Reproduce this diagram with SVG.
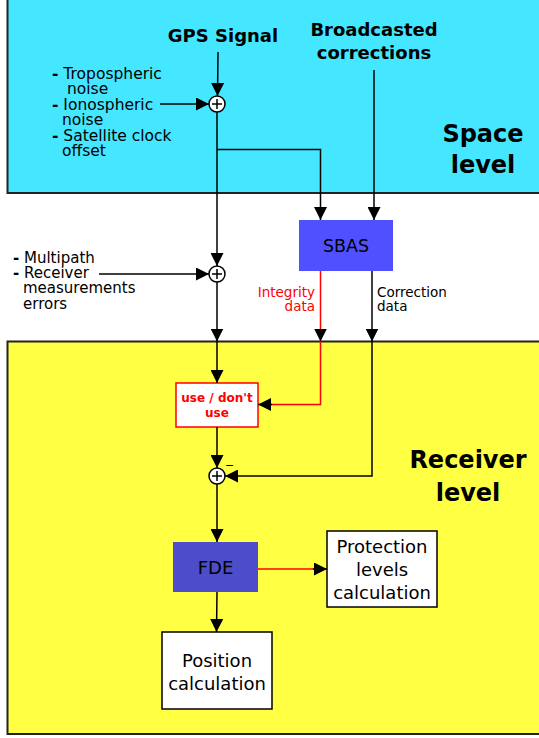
<svg xmlns="http://www.w3.org/2000/svg" width="539" height="738" viewBox="0 0 539 738">
<style>
text{font-family:"DejaVu Sans","Liberation Sans",sans-serif;fill:#000}
.b{font-weight:bold}
.ln{fill:none;stroke:#000;stroke-width:1.5}
.rd{fill:none;stroke:#ff0000;stroke-width:1.5}
.j{fill:#fff;stroke:#000;stroke-width:1.5}
.box{stroke:#000;stroke-width:1.5;fill:#fff}
.mid{text-anchor:middle}
</style>
<defs>
<marker id="ah" viewBox="0 0 10 10" refX="10" refY="5" markerWidth="13" markerHeight="13" markerUnits="userSpaceOnUse" orient="auto">
<path d="M0,0 L10,5 L0,10 z" fill="#000"/>
</marker>
</defs>
<g id="space-level">
<rect x="7.5" y="-3" width="540" height="196" fill="#45e6ff" stroke="#222" stroke-width="2"/>
<text class="b mid" x="483" y="142" font-size="24">Space</text>
<text class="b mid" x="483" y="173" font-size="24">level</text>
</g>
<g id="receiver-level">
<rect x="7.5" y="341.5" width="540" height="392.5" fill="#ffff44" stroke="#222" stroke-width="2"/>
<text class="b mid" x="468" y="468" font-size="24">Receiver</text>
<text class="b mid" x="468" y="501" font-size="24">level</text>
</g>
<g id="gps-signal"><text class="b mid" x="223" y="42" font-size="18">GPS Signal</text></g>
<g id="broadcasted"><text class="b mid" x="374" y="36" font-size="18">Broadcasted</text><text class="b mid" x="374" y="59" font-size="18">corrections</text></g>
<g id="space-errors">
<text x="52" y="79" font-size="15.5"><tspan class="b">-</tspan> Tropospheric</text>
<text x="67" y="94" font-size="15.5">noise</text>
<text x="52" y="110" font-size="15.5"><tspan class="b">-</tspan> Ionospheric</text>
<text x="62" y="125" font-size="15.5">noise</text>
<text x="52" y="141" font-size="15.5"><tspan class="b">-</tspan> Satellite clock</text>
<text x="62" y="156" font-size="15.5">offset</text>
</g>
<g id="receiver-errors">
<text x="13" y="263" font-size="15"><tspan class="b">-</tspan> Multipath</text>
<text x="13" y="278" font-size="15"><tspan class="b">-</tspan> Receiver</text>
<text x="23" y="293" font-size="15">measurements</text>
<text x="23" y="309" font-size="15">errors</text>
</g>
<g id="sbas">
<rect x="299" y="220" width="94" height="51" fill="#5050ff"/>
<text class="mid" x="346" y="252" font-size="17.5" fill="#111">SBAS</text>
</g>
<g id="use-dont-use">
<rect x="176" y="383" width="82" height="44" fill="#fff" stroke="#ff0000" stroke-width="1.5"/>
<text class="b mid" x="217" y="401.5" font-size="12" style="fill:#ff0000">use / don't</text>
<text class="b mid" x="217" y="416.5" font-size="12" style="fill:#ff0000">use</text>
</g>
<g id="fde">
<rect x="173" y="542" width="85" height="50" fill="#4d4dc9"/>
<text class="mid" x="215.5" y="574" font-size="18" fill="#111">FDE</text>
</g>
<g id="protection">
<rect class="box" x="327" y="531" width="110" height="76"/>
<text class="mid" x="382" y="553" font-size="18">Protection</text>
<text class="mid" x="382" y="576" font-size="18">levels</text>
<text class="mid" x="382" y="599" font-size="18">calculation</text>
</g>
<g id="position">
<rect class="box" x="162" y="632" width="110" height="77"/>
<text class="mid" x="217" y="667" font-size="18">Position</text>
<text class="mid" x="217" y="690" font-size="18">calculation</text>
</g>
<g id="labels">
<text x="315" y="297" font-size="13.5" text-anchor="end" style="fill:#ff0000">Integrity</text>
<text x="315" y="311" font-size="13.5" text-anchor="end" style="fill:#ff0000">data</text>
<text x="377" y="297" font-size="13.5">Correction</text>
<text x="377" y="311" font-size="13.5">data</text>
</g>
<g id="connectors">
<path class="ln" d="M218,52 L217.5,96" marker-end="url(#ah)"/>
<path class="ln" d="M160,104 L209,104" marker-end="url(#ah)"/>
<path class="ln" d="M217,112 L217,266" marker-end="url(#ah)"/>
<path class="ln" d="M217,149.5 L320.5,149.5 L320.5,220" marker-end="url(#ah)"/>
<path class="ln" d="M374,70 L374,220" marker-end="url(#ah)"/>
<path class="ln" d="M99,274 L209,274" marker-end="url(#ah)"/>
<path class="ln" d="M217,282 L217,341.5" marker-end="url(#ah)"/>
<path class="ln" d="M217,341.5 L217,383" marker-end="url(#ah)"/>
<path class="rd" d="M320.5,271 L320.5,341.5" marker-end="url(#ah)"/>
<path class="rd" d="M320.5,341.5 L320.5,404.5 L270,404.5"/>
<path class="ln" d="M272,404.5 L258,404.5" marker-end="url(#ah)"/>
<path class="ln" d="M372,271 L372,341.5" marker-end="url(#ah)"/>
<path class="ln" d="M372,341.5 L372,476 L225,476" marker-end="url(#ah)"/>
<path class="ln" d="M217,427 L217,468" marker-end="url(#ah)"/>
<path class="ln" d="M217,484 L217,542" marker-end="url(#ah)"/>
<path class="rd" d="M258,569 L315,569"/>
<path class="ln" d="M313,569 L327,569" marker-end="url(#ah)"/>
<path class="ln" d="M217,592 L216.5,632" marker-end="url(#ah)"/>
</g>
<g id="junction-1">
<circle class="j" cx="217" cy="104" r="8"/>
<path class="ln" d="M212,104 H222 M217,99 V109"/>
</g>
<g id="junction-2">
<circle class="j" cx="217" cy="274" r="8"/>
<path class="ln" d="M212,274 H222 M217,269 V279"/>
</g>
<g id="junction-3">
<circle class="j" cx="217" cy="476" r="8"/>
<path class="ln" d="M212,476 H222 M217,471 V481"/>
<text x="225" y="468.5" font-size="11">−</text>
</g>
</svg>
